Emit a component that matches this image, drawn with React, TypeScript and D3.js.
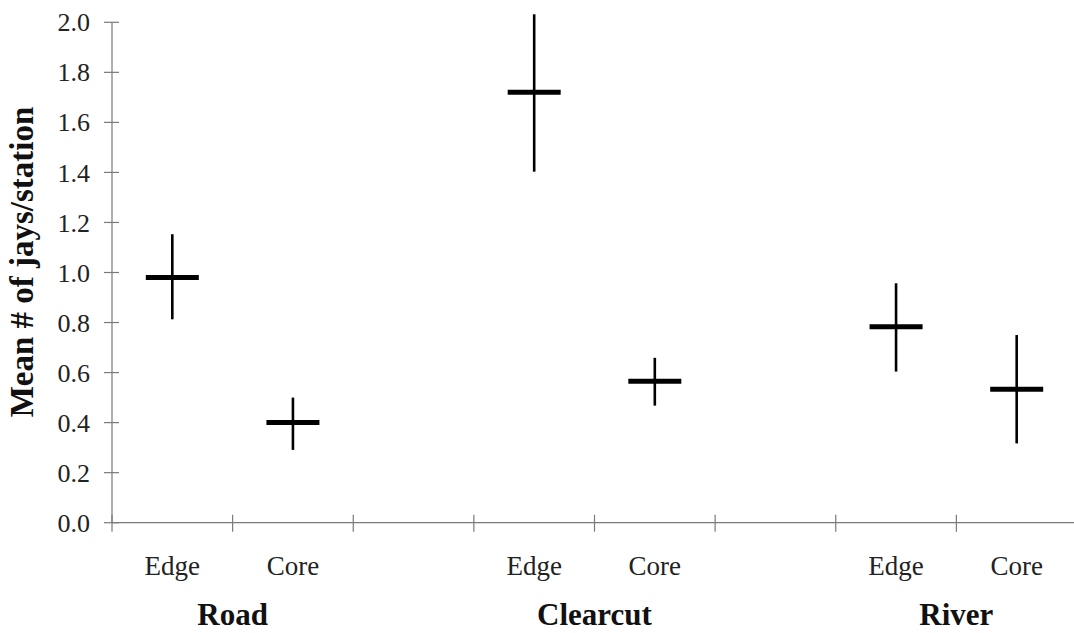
import React from "react";
import * as d3 from "d3";

const slots = ["Road-Edge", "Road-Core", "gap1", "Clearcut-Edge", "Clearcut-Core", "gap2", "River-Edge", "River-Core"];
const slotLabels = ["Edge", "Core", "", "Edge", "Core", "", "Edge", "Core"];
const pointSlots = ["Road-Edge", "Road-Core", "Clearcut-Edge", "Clearcut-Core", "River-Edge", "River-Core"];
const means = [0.98, 0.40, 1.72, 0.565, 0.783, 0.533];
const uppers = [1.153, 0.50, 2.032, 0.659, 0.957, 0.75];
const lowers = [0.813, 0.291, 1.403, 0.468, 0.604, 0.317];
const groups = ["Road", "Clearcut", "River"];
const groupSlots = [["Road-Edge", "Road-Core"], ["Clearcut-Edge", "Clearcut-Core"], ["River-Edge", "River-Core"]];
const yTicks = [0, 0.2, 0.4, 0.6, 0.8, 1.0, 1.2, 1.4, 1.6, 1.8, 2.0];
const yTitle = "Mean # of jays/station";

const W = 1074;
const H = 633;
const X0 = 112;
const X1 = 1077;
const Y0 = 522.7;
const Y1 = 22.3;
const FONT = "'Liberation Serif', 'Times New Roman', serif";
const AXIS = "#7a7a7a";

export default function App() {
  const x = d3.scaleBand<string>().domain(slots).range([X0, X1]).padding(0);
  const y = d3.scaleLinear().domain([0, 2]).range([Y0, Y1]);
  const bw = x.bandwidth();
  const cx = (s: string) => (x(s) as number) + bw / 2;
  const boundaries = slots.map((s) => x(s) as number).concat([X1]);

  return (
    <svg width={W} height={H} style={{ position: "absolute", left: 0, top: 0, background: "#fff" }}>
      <rect x={0} y={0} width={W} height={H} fill="#fff" />
      {/* y axis */}
      <line x1={X0} x2={X0} y1={Y1} y2={Y0} stroke={AXIS} strokeWidth={1.2} />
      {yTicks.map((t) => (
        <g key={t}>
          <line x1={X0 - 8} x2={X0 + 7} y1={y(t)} y2={y(t)} stroke={AXIS} strokeWidth={1.2} />
          <text x={90} y={y(t)} dy="0.35em" textAnchor="end" fontFamily={FONT} fontSize={26} fill="#222">
            {t.toFixed(1)}
          </text>
        </g>
      ))}
      {/* x axis */}
      <line x1={X0} x2={W} y1={Y0} y2={Y0} stroke={AXIS} strokeWidth={1.2} />
      {boundaries.map((b, i) => (
        <line key={i} x1={b} x2={b} y1={Y0 - 8} y2={Y0 + 9} stroke={AXIS} strokeWidth={1.2} />
      ))}
      {slots.map((s, i) =>
        slotLabels[i] ? (
          <text key={s} x={cx(s)} y={575} textAnchor="middle" fontFamily={FONT} fontSize={27} fill="#222">
            {slotLabels[i]}
          </text>
        ) : null
      )}
      {groups.map((g, i) => (
        <text
          key={g}
          x={(cx(groupSlots[i][0]) + cx(groupSlots[i][1])) / 2}
          y={625}
          textAnchor="middle"
          fontFamily={FONT}
          fontWeight="bold"
          fontSize={31}
          fill="#111"
        >
          {g}
        </text>
      ))}
      <text
        transform={`translate(33, 262) rotate(-90)`}
        textAnchor="middle"
        fontFamily={FONT}
        fontWeight="bold"
        fontSize={33}
        fill="#111"
      >
        {yTitle}
      </text>
      {/* error bars */}
      {pointSlots.map((s, i) => (
        <g key={s}>
          <line x1={cx(s)} x2={cx(s)} y1={y(uppers[i])} y2={y(lowers[i])} stroke="#000" strokeWidth={2.6} />
          <line x1={cx(s) - 26.5} x2={cx(s) + 26.5} y1={y(means[i])} y2={y(means[i])} stroke="#000" strokeWidth={5} />
        </g>
      ))}
    </svg>
  );
}
